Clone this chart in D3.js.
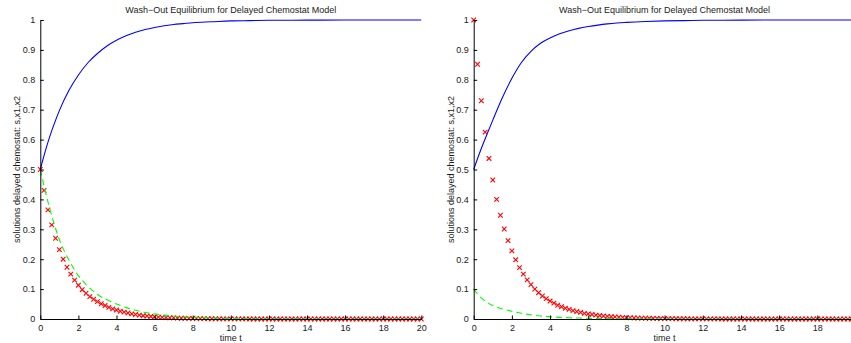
<!DOCTYPE html>
<html lang="en">
<head>
    <meta charset="UTF-8">
    <title>Wash-Out Equilibrium</title>
    <script src="https://d3js.org/d3.v7.min.js"></script>
    <style>
        body {margin: 0; background: #fff;}
        svg {display: block;}
        text {
            font-family: "Liberation Sans", Arial, sans-serif;
            font-size: 9px;
            fill: #1a1a1a;
        }
    </style>
</head>
<body>
<script>
    const width = 851;
    const height = 343;

    // time grid of the solid / dashed lines
    const tLine = [0, 0.25, 0.5, 0.75, 1, 1.5, 2, 2.5, 3, 3.5, 4, 4.5, 5, 5.5, 6, 6.5, 7, 7.5, 8, 9, 10, 11, 12, 14, 16, 18, 20];

    // left panel
    const sLeft  = [0.5, 0.559, 0.611, 0.656, 0.697, 0.764, 0.816, 0.857, 0.888, 0.913, 0.932, 0.947, 0.959, 0.968, 0.975, 0.981, 0.985, 0.988, 0.991, 0.994, 0.997, 0.998, 0.999, 0.9995, 1, 1, 1];
    const x2Left = [0.5, 0.43, 0.368, 0.313, 0.266, 0.197, 0.145, 0.109, 0.082, 0.064, 0.05, 0.038, 0.029, 0.022, 0.017, 0.013, 0.01, 0.0077, 0.006, 0.0036, 0.0021, 0.0012, 0.0007, 0.0003, 0.0001, 0, 0];
    // right panel
    const sRight  = [0.5, 0.545, 0.587, 0.626, 0.665, 0.74, 0.805, 0.858, 0.895, 0.922, 0.94, 0.954, 0.964, 0.972, 0.978, 0.983, 0.987, 0.99, 0.992, 0.995, 0.997, 0.998, 0.999, 0.9995, 1, 1, 1];
    const x2Right = [0.1, 0.08, 0.065, 0.053, 0.045, 0.034, 0.026, 0.019, 0.014, 0.010, 0.0075, 0.0056, 0.0042, 0.0031, 0.0023, 0.0017, 0.0013, 0.001, 0.0007, 0.0004, 0.0002, 0.0001, 0, 0, 0, 0, 0];

    // x1 sampled every 0.2 (markers)
    const tMark = d3.range(101).map(i => i * 0.2);
    const x1Left = [
        0.5, 0.43, 0.365, 0.315, 0.27, 0.232, 0.2, 0.173, 0.15, 0.13,
        0.113, 0.098, 0.086, 0.075, 0.066, 0.058, 0.051, 0.045, 0.039, 0.034,
        0.030, 0.026, 0.023, 0.020, 0.017, 0.015, 0.013, 0.011, 0.010, 0.0085,
        0.0074, 0.0064, 0.0055, 0.0048, 0.0042, 0.0036, 0.0031, 0.0027, 0.0024, 0.0021,
        0.0018, 0.0016, 0.0014, 0.0012, 0.001, 0.0009, 0.0008, 0.0007, 0.0006, 0.0005,
        0.0005, 0.0004, 0.0004, 0.0003, 0.0003, 0.0002, 0.0002, 0.0002, 0.0001, 0.0001,
        0.0001, 0, 0, 0, 0, 0, 0, 0, 0, 0,
        0, 0, 0, 0, 0, 0, 0, 0, 0, 0,
        0, 0, 0, 0, 0, 0, 0, 0, 0, 0,
        0, 0, 0, 0, 0, 0, 0, 0, 0, 0,
        0];
    const x1Right = [
        1.0, 0.852, 0.73, 0.625, 0.537, 0.465, 0.4, 0.347, 0.301, 0.262,
        0.228, 0.198, 0.172, 0.15, 0.131, 0.115, 0.1, 0.088, 0.077, 0.068,
        0.06, 0.053, 0.046, 0.041, 0.036, 0.032, 0.028, 0.025, 0.022, 0.019,
        0.017, 0.015, 0.013, 0.0115, 0.010, 0.0089, 0.0079, 0.007, 0.0062, 0.0055,
        0.0048, 0.0043, 0.0038, 0.0033, 0.0029, 0.0026, 0.0023, 0.002, 0.0018, 0.0016,
        0.0014, 0.0012, 0.0011, 0.001, 0.0009, 0.0008, 0.0007, 0.0006, 0.0005, 0.0005,
        0.0004, 0.0004, 0.0003, 0.0003, 0.0003, 0.0002, 0.0002, 0.0002, 0.0001, 0.0001,
        0.0001, 0, 0, 0, 0, 0, 0, 0, 0, 0,
        0, 0, 0, 0, 0, 0, 0, 0, 0, 0,
        0, 0, 0, 0, 0, 0, 0, 0, 0, 0,
        0];

    const xTicks = [0, 2, 4, 6, 8, 10, 12, 14, 16, 18, 20];
    const yTicks = [0, 0.1, 0.2, 0.3, 0.4, 0.5, 0.6, 0.7, 0.8, 0.9, 1];
    const title = "Wash\u2212Out Equilibrium for Delayed Chemostat Model";
    const xLabel = "time t";
    const yLabel = "solutions delayed chemostat: s,x1,x2";

    const panels = [
        {left: 40.3, right: 421.3, s: sLeft, x1: x1Left, x2: x2Left},
        {left: 473.7, right: 855.5, s: sRight, x1: x1Right, x2: x2Right}
    ];
    const plotTop = 20, plotBottom = 319;

    const svg = d3.select("body").append("svg")
            .attr("width", width).attr("height", height);

    panels.forEach(drawPanel);

    function drawPanel(p) {
        const x = d3.scaleLinear().domain([0, 20]).range([p.left, p.right]);
        const y = d3.scaleLinear().domain([0, 1]).range([plotBottom, plotTop]);
        const g = svg.append("g");

        const line = d3.line().x((d, i) => x(tLine[i])).y(d => y(d)).curve(d3.curveMonotoneX);

        // s
        g.append("path")
                .datum(p.s)
                .attr("d", line)
                .style("fill", "none")
                .style("stroke", "#0000ff")
                .style("stroke-width", 1.1);

        // x1 markers
        const r = 2.3;
        g.selectAll("path.mark")
                .data(p.x1)
                .enter()
                .append("path")
                .attr("class", "mark")
                .attr("d", (d, i) => {
                    const cx = x(tMark[i]), cy = y(d);
                    return `M${cx - r},${cy - r}L${cx + r},${cy + r}M${cx - r},${cy + r}L${cx + r},${cy - r}`;
                })
                .style("stroke", "#ff0000")
                .style("stroke-width", 1.1)
                .style("fill", "none");

        // x2
        g.append("path")
                .datum(p.x2)
                .attr("d", line)
                .style("fill", "none")
                .style("stroke", "#00ff00")
                .style("stroke-width", 1.1)
                .style("stroke-dasharray", "6,4");

        // axes (MATLAB style, ticks inward)
        g.append("g")
                .attr("transform", `translate(0,${plotBottom})`)
                .call(d3.axisBottom(x).tickValues(xTicks).tickSizeInner(-3.5).tickSizeOuter(0).tickPadding(6))
                .call(a => a.select(".domain").attr("stroke", "#000"))
                .call(a => a.selectAll("line").attr("stroke", "#000"))
                .call(a => a.selectAll("text").style("fill", "#1a1a1a").attr("font-size", null).attr("font-family", null));

        g.append("g")
                .attr("transform", `translate(${p.left},0)`)
                .call(d3.axisLeft(y).tickValues(yTicks).tickFormat(d3.format("~g")).tickSizeInner(-3.5).tickSizeOuter(0).tickPadding(5))
                .call(a => a.select(".domain").attr("stroke", "#000"))
                .call(a => a.selectAll("line").attr("stroke", "#000"))
                .call(a => a.selectAll("text").style("fill", "#1a1a1a").attr("font-size", null).attr("font-family", null));

        const cx = (p.left + p.right) / 2;
        svg.append("text")
                .attr("x", cx).attr("y", 13)
                .attr("text-anchor", "middle")
                .text(title);
        svg.append("text")
                .attr("x", cx).attr("y", 341)
                .attr("text-anchor", "middle")
                .text(xLabel);
        svg.append("text")
                .attr("transform", `translate(${p.left - 20},${(plotTop + plotBottom) / 2}) rotate(-90)`)
                .attr("text-anchor", "middle")
                .text(yLabel);
    }
</script>

</body>
</html>
